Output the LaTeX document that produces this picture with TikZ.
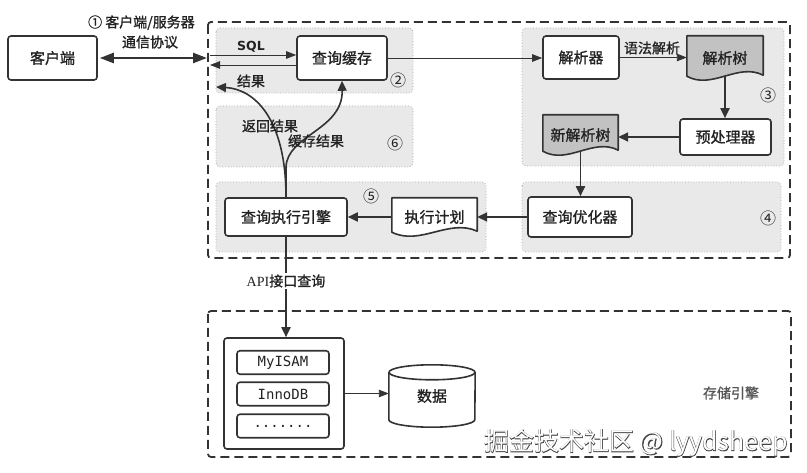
\documentclass[tikz,border=0pt]{standalone}
\usepackage{fontspec}
\setmainfont{Noto Sans CJK SC}
\newfontfamily\boldish{Noto Sans CJK SC}[FakeBold=1.2]
\newfontfamily\monofont{DejaVu Sans Mono}
\newfontfamily\sqlfont{DejaVu Sans}
\newfontfamily\apifont{Liberation Serif}
\usetikzlibrary{arrows.meta,calc,shapes.geometric}
\pgfdeclarelayer{pagelayer}
\pgfdeclarelayer{regionlayer}
\pgfdeclarelayer{shapelayer}
\pgfsetlayers{pagelayer,regionlayer,shapelayer,main}
\definecolor{linec}{HTML}{333333}
\definecolor{textc}{HTML}{222222}
\definecolor{regionc}{HTML}{E9E9E9}
\definecolor{regionb}{HTML}{AAAAAA}
\definecolor{docc}{HTML}{C2C2C2}
\definecolor{graytext}{HTML}{555555}
\definecolor{wmdark}{HTML}{444444}
\tikzset{
  box/.style={draw=linec, line width=1.6pt, rounded corners=3pt, fill=white, inner sep=0pt,
    font=\boldish\fontsize{15}{18}\selectfont, text=textc},
  doctext/.style={inner sep=0pt, font=\boldish\fontsize{15}{18}\selectfont, text=textc},
  docline/.style={draw=linec, line width=1.6pt, line join=round},
  region/.style={fill=regionc, draw=regionb, line width=0.8pt, dotted, rounded corners=4pt},
  dashbox/.style={draw=linec, line width=1.8pt, dash pattern=on 9pt off 5pt, rounded corners=3pt},
  thinarrow/.style={draw=linec, line width=0.9pt, -{Triangle[length=10pt,width=7.5pt]}},
  thickarrow/.style={draw=linec, line width=1.8pt, -{Triangle[length=10pt,width=9pt]}},
  dblarrow/.style={draw=linec, line width=2.4pt, {Triangle[length=14pt,width=10pt]}-{Triangle[length=14pt,width=10pt]}},
  lbl/.style={inner sep=0pt, font=\boldish\fontsize{14}{20}\selectfont, text=textc},
  num/.style={inner sep=0pt, font=\fontsize{16}{18}\selectfont, text=textc},
  engbox/.style={draw=linec, line width=1.6pt, rounded corners=3pt, fill=white, inner sep=0pt,
    minimum width=92pt, minimum height=23.5pt, font=\monofont\fontsize{14}{16}\selectfont, text=textc},
  cyl/.style={draw=linec, line width=1.6pt, fill=white},
}
\newcommand\mydocshape[2]{%
  \begin{pgfonlayer}{shapelayer}
  \draw[docline, fill=#2] (#1.north west) -- (#1.north east) -- ($(#1.south east)+(0,-5)$)
    .. controls ($(#1.south east)!0.33!(#1.south west)+(0,-18)$) and ($(#1.south east)!0.67!(#1.south west)+(0,10)$)
    .. ($(#1.south west)+(0,-4)$) -- cycle;
  \end{pgfonlayer}}
\begin{document}
\begin{tikzpicture}[x=1pt,y=-1pt]
\begin{pgfonlayer}{pagelayer}
  \fill[white] (0,0) rectangle (807,473);
\end{pgfonlayer}
\useasboundingbox (0,0) rectangle (807,473);

% ---- regions and dashed frames
\begin{pgfonlayer}{regionlayer}
  \draw[dashbox] (208,22) rectangle (790,258);
  \draw[dashbox] (208,311) rectangle (791,457);
  \draw[region] (216,28) rectangle (413,93);
  \draw[region] (216,106) rectangle (413,167);
  \draw[region] (216,182) rectangle (486,252);
  \draw[region] (522,28) rectangle (784,166);
  \draw[region] (522,182) rectangle (781,252);
\end{pgfonlayer}

% ---- nodes
\node[box, minimum width=89pt, minimum height=44pt] (client) at (52.5,58) {客户端};
\node[box, minimum width=90pt, minimum height=44pt] (cache) at (342,58) {查询缓存};
\node[box, minimum width=76pt, minimum height=43pt] (parser) at (581,57.5) {解析器};
\node[doctext, minimum width=76pt, minimum height=44pt] (tree) at (725,58) {解析树};
\node[box, minimum width=91pt, minimum height=36pt] (pre) at (725.5,137) {预处理器};
\node[doctext, minimum width=75pt, minimum height=40pt] (newtree) at (580.5,135) {新解析树};
\node[box, minimum width=104pt, minimum height=40pt] (opt) at (580,217) {查询优化器};
\node[doctext, minimum width=85pt, minimum height=38pt] (plan) at (434.5,217) {执行计划};
\node[box, minimum width=122pt, minimum height=38pt] (exec) at (286,217) {查询执行引擎};

\mydocshape{tree}{docc}
\mydocshape{newtree}{docc}
\mydocshape{plan}{white}

% ---- storage engine
\node[box, minimum width=120pt, minimum height=111pt] (eng) at (284,393.5) {};
\node[engbox] (myisam) at (283,362.5) {MyISAM};
\node[engbox] (innodb) at (283,394) {InnoDB};
\node[engbox] (more) at (283,426) {.......};
\node[inner sep=0pt, minimum width=86pt, minimum height=62pt, font=\boldish\fontsize{15}{18}\selectfont, text=textc] (data) at (432,396) {数据};
\begin{pgfonlayer}{shapelayer}
  \draw[cyl] ($(data.north west)+(0,7.5)$) -- ($(data.south west)+(0,-7.5)$)
    arc[start angle=180, end angle=360, x radius=43pt, y radius=7.5pt]
    -- ($(data.north east)+(0,7.5)$);
  \draw[cyl] ($(data.north)+(0,7.5)$) ellipse[x radius=43pt, y radius=7.5pt];
\end{pgfonlayer}

% ---- coordinates
\coordinate (srvL) at (207,58);
\coordinate (sqlS) at (210,55);
\coordinate (resS) at (210,65);
\coordinate (resL) at (216,87);

% ---- connectors
\draw[dblarrow, shorten <=2pt] (client.east) -- (srvL);
\draw[thinarrow] (sqlS) -- (sqlS -| cache.west);
\draw[thinarrow] (resS -| cache.west) -- (resS);
\draw[thinarrow] (cache.east) -- (cache.east -| parser.west);
\draw[thinarrow] (parser.east) -- (parser.east -| tree.west);
\draw[thickarrow] ($(tree.south)+(0,-4)$) -- (tree.south |- pre.north);
\draw[thickarrow] (pre.west) -- (pre.west -| newtree.east);
\draw[thickarrow] ($(newtree.south)+(0,-4)$) -- (newtree.south |- opt.north);
\draw[thickarrow] (opt.west) -- (opt.west -| plan.east);
\draw[thickarrow] (plan.west) -- (plan.west -| exec.east);
\draw[thickarrow, line width=1.6pt] (exec.north) .. controls (286,118) and (254,89) .. (resL);
\draw[thickarrow, line width=1.6pt] (exec.north) -- ++(0,-30) .. controls (287,135) and (343,130) .. (cache.south);
\draw[thickarrow] (exec.south) -- node[pos=0.44, fill=white, inner sep=2pt, font=\boldish\fontsize{14}{16}\selectfont, text=textc] (api) {{\apifont API}接口查询} (exec.south |- eng.north);
\draw[thinarrow] (eng.east) -- (eng.east -| data.west);

% ---- labels
\node[lbl, align=center] (proto) at (150,32) {\llap{① }客户端/服务器\\通信协议};
\node[lbl, font=\sqlfont\bfseries\fontsize{12.5}{14}\selectfont] (sql) at (251,47) {SQL};
\node[lbl] (res) at (251,81) {结果};
\node[lbl] (ret) at (270,126) {返回结果};
\node[lbl] (cres) at (316,141) {缓存结果};
\node[lbl] (gram) at (652,48) {语法解析};
\node[num] (n2) at (398,80) {②};
\node[num] (n3) at (768,95) {③};
\node[num] (n4) at (768,218) {④};
\node[num] (n5) at (371,196) {⑤};
\node[num] (n6) at (395,143) {⑥};
\node[lbl, text=graytext] (store) at (731,393) {存储引擎};
\node[inner sep=0pt, font=\fontsize{25}{28}\selectfont] (wm) at (636,443)
  {\rlap{\color{wmdark}\addfontfeature{FakeBold=3}掘金技术社区 @ lyydsheep}\color{white}掘金技术社区 @ lyydsheep};
\end{tikzpicture}
\end{document}
